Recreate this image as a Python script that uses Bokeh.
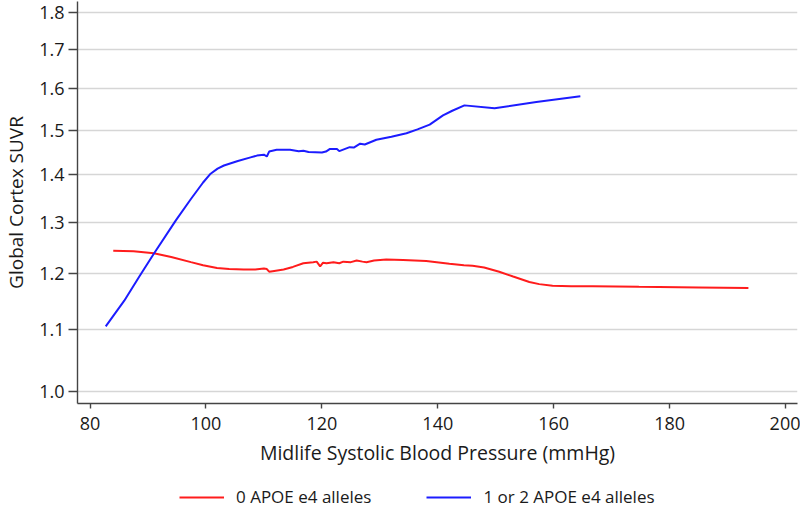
from bokeh.plotting import figure
from bokeh.models import Range1d, FixedTicker, PrintfTickFormatter, Legend, LegendItem
from bokeh.layouts import column
from bokeh.embed import file_html
from bokeh.resources import INLINE

# ---- data ----
sbp_e4neg = [84.0, 87.5, 91.0, 94.0, 97.4, 99.5, 101.9, 104.0, 106.5, 108.5, 110.0, 110.5,
             110.9, 111.5, 113.4, 115.0, 116.8, 118.5, 119.1, 119.7, 120.2, 120.8, 122.0,
             123.0, 123.7, 125.0, 126.0, 127.0, 127.7, 129.0, 131.1, 134.0, 138.0, 142.0,
             144.5, 146.0, 148.0, 150.6, 153.0, 155.8, 157.5, 159.8, 163.0, 166.7, 174.7,
             185.0, 193.6]
suvr_e4neg = [1.244, 1.243, 1.239, 1.232, 1.222, 1.216, 1.211, 1.209, 1.208, 1.208, 1.210,
              1.209, 1.204, 1.205, 1.208, 1.213, 1.220, 1.222, 1.223, 1.214, 1.221, 1.220,
              1.222, 1.220, 1.223, 1.222, 1.225, 1.223, 1.222, 1.225, 1.227, 1.226, 1.224,
              1.219, 1.216, 1.215, 1.212, 1.204, 1.195, 1.185, 1.181, 1.178, 1.177, 1.177,
              1.176, 1.175, 1.174]

sbp_e4pos = [82.7, 85.9, 88.5, 91.0, 94.8, 97.4, 99.5, 100.8, 102.0, 103.1, 105.5, 107.7,
             108.8, 110.0, 110.5, 110.9, 112.2, 114.5, 116.0, 116.8, 117.7, 120.0, 120.7,
             121.4, 122.6, 123.0, 124.8, 125.5, 126.6, 127.4, 129.4, 132.0, 134.6, 136.5,
             138.6, 140.9, 142.5, 144.6, 149.8, 157.0, 164.6]
suvr_e4pos = [1.106, 1.151, 1.195, 1.238, 1.304, 1.348, 1.383, 1.402, 1.413, 1.420, 1.430,
              1.438, 1.442, 1.444, 1.440, 1.451, 1.455, 1.455, 1.452, 1.453, 1.450, 1.449,
              1.451, 1.457, 1.457, 1.452, 1.461, 1.460, 1.469, 1.467, 1.478, 1.485, 1.493,
              1.502, 1.513, 1.535, 1.546, 1.559, 1.552, 1.567, 1.581]

x_ticks = [80, 100, 120, 140, 160, 180, 200]
y_ticks = [1.0, 1.1, 1.2, 1.3, 1.4, 1.5, 1.6, 1.7, 1.8]
series_labels = ["0 APOE e4 alleles", "1 or 2 APOE e4 alleles"]
series_colors = ["#ff1c1c", "#1c1cff"]
x_title = "Midlife Systolic Blood Pressure (mmHg)"
y_title = "Global Cortex SUVR"

FONT = "Open Sans"
TXT = "#1a1a1a"

fig = figure(width=800, height=470, output_backend="svg", toolbar_location=None,
             x_range=Range1d(77.83, 202.07), y_range=Range1d(0.9811, 1.832),
             y_axis_type="log",
             min_border_left=77, min_border_right=3, min_border_top=1, min_border_bottom=67)
fig.outline_line_color = None
fig.background_fill_color = "white"
fig.border_fill_color = "white"

fig.line(sbp_e4neg, suvr_e4neg, line_color=series_colors[0], line_width=2)
fig.line(sbp_e4pos, suvr_e4pos, line_color=series_colors[1], line_width=2)

fig.xaxis.ticker = FixedTicker(ticks=x_ticks, minor_ticks=[])
fig.yaxis.ticker = FixedTicker(ticks=y_ticks, minor_ticks=[])
fig.yaxis.formatter = PrintfTickFormatter(format="%.1f")

for ax in (fig.xaxis, fig.yaxis):
    ax.axis_line_color = "#444444"
    ax.axis_line_width = 1.4
    ax.major_tick_line_color = "#444444"
    ax.major_tick_line_width = 1.4
    ax.major_tick_in = 0
    ax.minor_tick_in = 0
    ax.minor_tick_out = 0
    ax.major_label_text_font = FONT
    ax.major_label_text_font_size = "18px"
    ax.major_label_text_color = TXT
    ax.axis_label_text_font = FONT
    ax.axis_label_text_font_style = "normal"
    ax.axis_label_text_color = TXT

fig.xaxis.major_tick_out = 5
fig.xaxis.major_label_standoff = 8
fig.xaxis.axis_label = x_title
fig.xaxis.axis_label_standoff = 6
fig.xaxis.axis_label_text_font_size = "19.5px"
fig.yaxis.major_tick_out = 9
fig.yaxis.major_label_standoff = 4
fig.yaxis.axis_label = y_title
fig.yaxis.axis_label_text_font_size = "19px"
fig.yaxis.axis_label_standoff = 7

fig.xgrid.visible = False
fig.ygrid.grid_line_color = "#d6d6d6"
fig.ygrid.grid_line_width = 1.5

# ---- legend strip below the plot (its lines lie outside this strip's view) ----
leg = figure(width=800, height=38, output_backend="svg", toolbar_location=None,
             x_range=Range1d(0, 1), y_range=Range1d(0, 1),
             x_axis_type=None, y_axis_type=None,
             min_border_left=0, min_border_right=0, min_border_top=0, min_border_bottom=0)
leg.outline_line_color = None
leg.xgrid.visible = False
leg.ygrid.visible = False
k1 = leg.line(sbp_e4neg, suvr_e4neg, line_color=series_colors[0], line_width=2)
k2 = leg.line(sbp_e4pos, suvr_e4pos, line_color=series_colors[1], line_width=2)
legend = Legend(items=[LegendItem(label=series_labels[0], renderers=[k1]),
                       LegendItem(label=series_labels[1], renderers=[k2])],
                location=(102, 0), orientation="horizontal",
                glyph_width=45, glyph_height=20, label_height=20, label_standoff=12,
                spacing=55, padding=0, margin=0, border_line_color=None,
                background_fill_alpha=0,
                label_text_font=FONT, label_text_font_size="17px", label_text_color=TXT)
leg.add_layout(legend)

p = column(fig, leg, spacing=0)

open("out.html", "w").write(file_html(p, INLINE))
